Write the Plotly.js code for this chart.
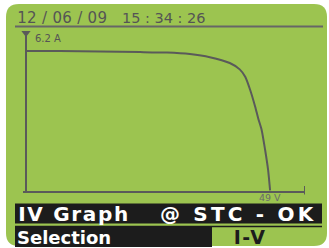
<!DOCTYPE html>
<html>
<head>
<meta charset="utf-8">
<script src="https://cdn.plot.ly/plotly-3.0.1.min.js"></script>
<style>
html,body{margin:0;padding:0;background:#fff;}
#chart{width:329px;height:248px;}
.annotation[data-index="0"] text{letter-spacing:0.3px;}
.annotation[data-index="4"] text{letter-spacing:1.7px;}
.annotation[data-index="5"] text{letter-spacing:3.2px;}
.annotation[data-index="7"] text{letter-spacing:1.5px;}
</style>
</head>
<body>
<div id="chart"></div>
<script>
// I-V curve data (voltage in V, current in A)
var voltage = [0, 6.8, 14.9, 22.9, 28.3, 32.9, 36.9, 40.9, 42.9, 44.0, 45.0, 46.0, 46.6, 47.3, 48.0, 48.6, 49.0];
var current = [5.49, 5.49, 5.47, 5.45, 5.43, 5.37, 5.25, 5.02, 4.77, 4.48, 3.96, 3.30, 2.85, 2.39, 1.60, 0.81, 0.0];
var dateText = "12 / 06 / 09";
var timeText = "15 : 34 : 26";
var iMaxLabel = "6.2 A";
var vMaxLabel = "49 V";
var titleLeft = "IV Graph";
var titleRight = "@ STC - OK";
var selLabel = "Selection";
var selValue = "I-V";

var W = 329, H = 248;
function fx(p){return p/W;}
function fy(p){return 1 - p/H;}
function rr(x0,y0,x1,y1,r){
  function P(x,y){return fx(x)+','+fy(y);}
  return 'M'+P(x0+r,y0)+' L'+P(x1-r,y0)+' Q'+P(x1,y0)+' '+P(x1,y0+r)+
    ' L'+P(x1,y1-r)+' Q'+P(x1,y1)+' '+P(x1-r,y1)+
    ' L'+P(x0+r,y1)+' Q'+P(x0,y1)+' '+P(x0,y1-r)+
    ' L'+P(x0,y0+r)+' Q'+P(x0,y0)+' '+P(x0+r,y0)+' Z';
}
var green = '#9cc450';
var dark = '#5a5a5a';
var black = '#1c1c1c';

var traces = [
  {x: voltage, y: current, type:'scatter', mode:'lines',
   line:{color:dark, width:2, shape:'spline', smoothing:0.6}, hoverinfo:'skip'},
  {x:[0], y:[6.2], type:'scatter', mode:'markers', cliponaxis:false,
   marker:{symbol:'triangle-down', size:8, color:dark}, hoverinfo:'skip'}
];

var layout = {
  width: W, height: H,
  margin:{l:0,r:0,t:0,b:0,pad:0},
  paper_bgcolor:'#ffffff', plot_bgcolor:'rgba(0,0,0,0)',
  showlegend:false,
  xaxis:{domain:[fx(23), fx(305)], range:[-0.6, 56.0], showline:true, linecolor:dark, linewidth:2,
         showgrid:false, zeroline:false, showticklabels:false, ticks:'', fixedrange:true},
  yaxis:{domain:[fy(190.7), fy(33)], range:[0, 6.2], anchor:'free', position:fx(26),
         showline:true, linecolor:dark, linewidth:2,
         showgrid:false, zeroline:false, showticklabels:false, ticks:'', fixedrange:true},
  shapes:[
    {type:'path', xref:'paper', yref:'paper', path: rr(6,4,327,246,13), fillcolor:green, line:{width:0}, layer:'below'},
    {type:'line', xref:'paper', yref:'paper', x0:fx(15), x1:fx(323), y0:fy(26.5), y1:fy(26.5), line:{color:'#666666', width:2}},
    {type:'line', xref:'x', yref:'paper', x0:56.0, x1:56.0, y0:fy(186), y1:fy(194.5), line:{color:dark, width:2}},
    {type:'rect', xref:'paper', yref:'paper', x0:fx(15), x1:fx(322), y0:fy(203.5), y1:fy(223.5), fillcolor:black, line:{width:0}},
    {type:'rect', xref:'paper', yref:'paper', x0:fx(15), x1:fx(212), y0:fy(226), y1:fy(247), fillcolor:black, line:{width:0}},
    {type:'line', xref:'paper', yref:'paper', x0:fx(15), x1:fx(322), y0:fy(226.5), y1:fy(226.5), line:{color:black, width:1.5}}
  ],
  annotations:[
    {xref:'paper', yref:'paper', x:fx(16 + 12*0.3/2), y:fy(18.5), xanchor:'left', yanchor:'middle', text:dateText, showarrow:false, borderpad:0,
     font:{family:'DejaVu Sans', size:15, color:'#555555'}},
    {xref:'paper', yref:'paper', x:fx(121), y:fy(18.5), xanchor:'left', yanchor:'middle', text:timeText, showarrow:false, borderpad:0,
     font:{family:'DejaVu Sans', size:14.5, color:'#555555'}},
    {xref:'x', yref:'y', x:0, y:6.2, xshift:8, yshift:-5, xanchor:'left', yanchor:'middle', text:iMaxLabel, showarrow:false, borderpad:0,
     font:{family:'DejaVu Sans', size:10, color:'#555555'}},
    {xref:'x', yref:'y', x:49, y:0, yshift:-7, xanchor:'center', yanchor:'middle', text:vMaxLabel, showarrow:false, borderpad:0,
     font:{family:'DejaVu Sans', size:9.5, color:'#6a6a6a'}},
    {xref:'paper', yref:'paper', x:fx(17 + 8*1.7/2), y:fy(213.5), xanchor:'left', yanchor:'middle', text:titleLeft, showarrow:false, borderpad:0,
     font:{family:'DejaVu Sans', size:20, color:'#ffffff', weight:700}},
    {xref:'paper', yref:'paper', x:fx(159 + 10*3.2/2), y:fy(213.5), xanchor:'left', yanchor:'middle', text:titleRight, showarrow:false, borderpad:0,
     font:{family:'DejaVu Sans', size:20, color:'#ffffff', weight:700}},
    {xref:'paper', yref:'paper', x:fx(16), y:fy(237), xanchor:'left', yanchor:'middle', text:selLabel, showarrow:false, borderpad:0,
     font:{family:'DejaVu Sans', size:18, color:'#ffffff', weight:700}},
    {xref:'paper', yref:'paper', x:fx(250 + 1.5/2), y:fy(237), xanchor:'center', yanchor:'middle', text:selValue, showarrow:false, borderpad:0,
     font:{family:'DejaVu Sans', size:19, color:black, weight:700}}
  ]
};
Plotly.newPlot('chart', traces, layout, {displayModeBar:false, staticPlot:true});
</script>
</body>
</html>
